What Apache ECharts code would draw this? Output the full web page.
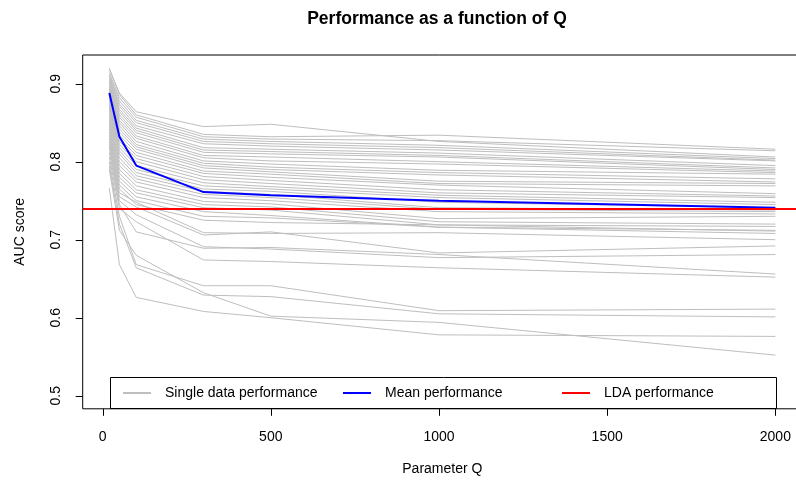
<!DOCTYPE html>
<html><head><meta charset="utf-8">
<script src="https://cdn.jsdelivr.net/npm/echarts@6/dist/echarts.min.js"></script>
<style>html,body{margin:0;padding:0;background:#fff}#c{width:796px;height:482px}</style>
</head><body><div id="c"></div>
<script>
// Parameter Q values where each run was evaluated
const qValues = [20, 50, 100, 300, 500, 1000, 2000];
// AUC of each single-data run (one row per run, values at qValues)
const singleRuns = [
  [0.918, 0.888, 0.864, 0.845, 0.848, 0.826, 0.806],
  [0.920, 0.886, 0.860, 0.835, 0.832, 0.834, 0.816],
  [0.914, 0.882, 0.857, 0.832, 0.829, 0.827, 0.814],
  [0.911, 0.878, 0.853, 0.829, 0.826, 0.821, 0.804],
  [0.909, 0.874, 0.850, 0.826, 0.823, 0.818, 0.802],
  [0.906, 0.871, 0.846, 0.823, 0.820, 0.815, 0.801],
  [0.904, 0.867, 0.843, 0.818, 0.816, 0.811, 0.795],
  [0.902, 0.864, 0.840, 0.815, 0.813, 0.808, 0.792],
  [0.900, 0.860, 0.837, 0.812, 0.810, 0.806, 0.790],
  [0.897, 0.857, 0.833, 0.808, 0.806, 0.800, 0.788],
  [0.895, 0.853, 0.830, 0.805, 0.801, 0.797, 0.786],
  [0.893, 0.850, 0.826, 0.801, 0.797, 0.789, 0.784],
  [0.891, 0.846, 0.822, 0.798, 0.793, 0.786, 0.778],
  [0.889, 0.842, 0.819, 0.795, 0.790, 0.783, 0.774],
  [0.887, 0.838, 0.816, 0.792, 0.787, 0.775, 0.772],
  [0.884, 0.834, 0.812, 0.788, 0.784, 0.772, 0.769],
  [0.881, 0.830, 0.808, 0.785, 0.780, 0.770, 0.759],
  [0.878, 0.826, 0.804, 0.781, 0.776, 0.764, 0.756],
  [0.875, 0.822, 0.800, 0.777, 0.772, 0.760, 0.754],
  [0.872, 0.818, 0.795, 0.773, 0.768, 0.757, 0.748],
  [0.869, 0.814, 0.790, 0.769, 0.765, 0.754, 0.745],
  [0.866, 0.810, 0.786, 0.765, 0.762, 0.748, 0.741],
  [0.862, 0.805, 0.782, 0.762, 0.758, 0.741, 0.738],
  [0.858, 0.800, 0.778, 0.758, 0.754, 0.739, 0.736],
  [0.854, 0.795, 0.774, 0.754, 0.750, 0.736, 0.733],
  [0.850, 0.790, 0.769, 0.749, 0.746, 0.727, 0.730],
  [0.846, 0.785, 0.764, 0.745, 0.742, 0.723, 0.720],
  [0.842, 0.780, 0.760, 0.741, 0.738, 0.719, 0.717],
  [0.838, 0.775, 0.755, 0.736, 0.731, 0.716, 0.712],
  [0.834, 0.770, 0.750, 0.730, 0.728, 0.716, 0.708],
  [0.830, 0.765, 0.745, 0.725, 0.722, 0.719, 0.711],
  [0.826, 0.760, 0.748, 0.709, 0.708, 0.709, 0.700],
  [0.822, 0.755, 0.742, 0.706, 0.710, 0.683, 0.692],
  [0.818, 0.750, 0.732, 0.691, 0.688, 0.677, 0.681],
  [0.812, 0.745, 0.710, 0.689, 0.690, 0.681, 0.656],
  [0.806, 0.740, 0.723, 0.674, 0.672, 0.664, 0.652],
  [0.800, 0.730, 0.668, 0.641, 0.641, 0.609, 0.611],
  [0.795, 0.720, 0.664, 0.629, 0.627, 0.605, 0.601],
  [0.790, 0.712, 0.680, 0.632, 0.602, 0.594, 0.552],
  [0.766, 0.668, 0.626, 0.608, 0.600, 0.578, 0.576]
];
// Mean AUC over runs
const meanAUC = [0.888, 0.832, 0.795, 0.761, 0.757, 0.750, 0.741];
// LDA reference AUC
const ldaAUC = 0.7435;
// Axis tick labels
const xTicks = [0, 500, 1000, 1500, 2000];
const yTicks = [0.5, 0.6, 0.7, 0.8, 0.9];

const FONT = '"Liberation Sans", Arial, Helvetica, sans-serif';
const X_MIN = -59.2, X_MAX = 2079.2, Y_MIN = 0.4832, Y_MAX = 0.9368;
const TICK = 7;
const chart = echarts.init(document.getElementById('c'), null, {renderer: 'canvas'});

const series = singleRuns.map(run => ({
  type: 'line', name: 'Single data performance',
  data: qValues.map((q, i) => [q, run[i]]),
  symbol: 'none', silent: true, z: 2,
  lineStyle: {color: '#bebebe', width: 1},
  itemStyle: {color: '#bebebe'}
}));
series.push({
  type: 'line', name: 'Mean performance',
  data: qValues.map((q, i) => [q, meanAUC[i]]),
  symbol: 'none', silent: true, z: 3,
  lineStyle: {color: '#0000ff', width: 2},
  itemStyle: {color: '#0000ff'}
});
series.push({
  type: 'line', name: 'LDA performance', data: [], symbol: 'none', z: 4,
  lineStyle: {color: '#ff0000', width: 2},
  itemStyle: {color: '#ff0000'},
  markLine: {
    symbol: ['none', 'none'], silent: true, animation: false,
    label: {show: false},
    lineStyle: {color: '#ff0000', width: 2, type: 'solid'},
    emphasis: {disabled: true},
    data: [{yAxis: ldaAUC}]
  }
});
// Tick marks drawn through the axis scales (custom series, not clipped)
series.push({
  type: 'custom', name: 'xTickMarks', silent: true, clip: false, z: 20,
  data: xTicks.map(t => [t, Y_MIN]),
  renderItem: (params, api) => {
    const p = api.coord([api.value(0), Y_MIN]);
    const x = Math.round(p[0]) + 0.5;
    return {type: 'line', shape: {x1: x, y1: p[1], x2: x, y2: p[1] + TICK},
      style: {stroke: '#000', lineWidth: 1}};
  }
});
series.push({
  type: 'custom', name: 'yTickMarks', silent: true, clip: false, z: 20,
  data: yTicks.map(t => [X_MIN, t]),
  renderItem: (params, api) => {
    const p = api.coord([X_MIN, api.value(1)]);
    const y = Math.round(p[1]) + 0.5;
    return {type: 'line', shape: {x1: p[0] - TICK, y1: y, x2: p[0], y2: y},
      style: {stroke: '#000', lineWidth: 1}};
  }
});

const legendBase = {
  top: 386, itemWidth: 28, itemHeight: 2, icon: 'rect', padding: 0,
  selectedMode: false,
  textStyle: {fontSize: 14, color: '#000', fontFamily: FONT, padding: [0, 0, 0, 9]}
};

chart.setOption({
  animation: false,
  backgroundColor: '#fff',
  title: {
    text: 'Performance as a function of Q',
    left: 432, top: 5, textAlign: 'center',
    textStyle: {fontSize: 17.5, fontWeight: 'bold', color: '#000', fontFamily: FONT}
  },
  grid: {
    left: 82.7, top: 55, right: -6, bottom: 73.2,
    show: true, borderColor: '#000', borderWidth: 1,
    containLabel: false, outerBoundsMode: 'none'
  },
  xAxis: {
    type: 'value', min: X_MIN, max: X_MAX,
    axisLine: {show: false, onZero: false},
    splitLine: {show: false},
    axisTick: {show: false},
    axisLabel: {customValues: xTicks, margin: 21, fontSize: 14, color: '#000', fontFamily: FONT,
      formatter: v => String(v)},
    name: 'Parameter Q', nameLocation: 'middle', nameGap: 53,
    nameTextStyle: {fontSize: 14, color: '#000', fontFamily: FONT}
  },
  yAxis: {
    type: 'value', min: Y_MIN, max: Y_MAX,
    axisLine: {show: false, onZero: false},
    splitLine: {show: false},
    axisTick: {show: false},
    axisLabel: {customValues: yTicks, rotate: 90, margin: 20, fontSize: 14, color: '#000',
      fontFamily: FONT, formatter: v => v.toFixed(1)},
    name: 'AUC score', nameLocation: 'middle', nameGap: 56, nameRotate: 90,
    nameTextStyle: {fontSize: 14, color: '#000', fontFamily: FONT}
  },
  legend: [
    Object.assign({}, legendBase, {left: 123, data: ['Single data performance']}),
    Object.assign({}, legendBase, {left: 343, data: ['Mean performance']}),
    Object.assign({}, legendBase, {left: 562, data: ['LDA performance']})
  ],
  graphic: [{
    type: 'rect', z: 100, silent: true,
    shape: {x: 110.5, y: 377.5, width: 666, height: 31},
    style: {fill: 'none', stroke: '#000', lineWidth: 1}
  }],
  series: series
});
</script></body></html>
